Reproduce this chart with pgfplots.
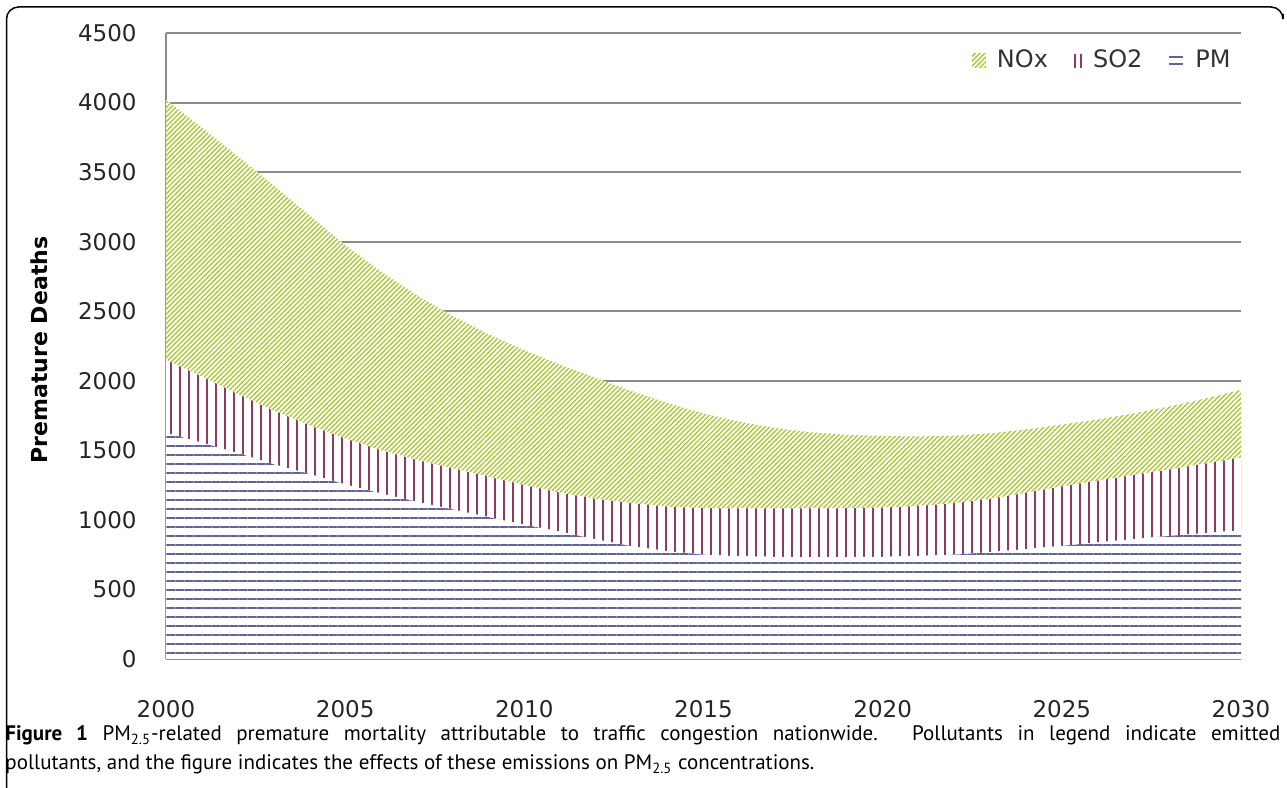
\documentclass[border=0pt]{standalone}
\usepackage{fontspec}
\setmainfont{DejaVu Sans}
\newfontfamily\capfont{PT Sans}
\usepackage{pgfplots}
\usepackage{pgfplotstable}
\pgfplotsset{compat=1.18}
\usetikzlibrary{patterns.meta}

\definecolor{noxc}{RGB}{170,200,55}
\definecolor{so2c}{RGB}{140,60,100}
\definecolor{pmc}{RGB}{100,100,145}
\definecolor{gridc}{RGB}{140,140,140}

\pgfplotstableread{
year pm so2 nox
2000 1625 525 1870
2001 1555 475 1790
2002 1480 425 1710
2003 1400 385 1620
2004 1330 350 1510
2005 1255 330 1390
2006 1190 310 1285
2007 1130 300 1185
2008 1075 295 1095
2009 1020 290 1025
2010 965 285 970
2011 915 280 920
2012 860 290 870
2013 810 310 805
2014 775 320 745
2015 750 335 680
2016 738 344 623
2017 734 348 578
2018 732 350 548
2019 733 351 528
2020 735 353 515
2021 740 360 500
2022 750 370 485
2023 768 382 472
2024 790 405 455
2025 813 427 445
2026 838 444 440
2027 862 460 443
2028 885 477 453
2029 905 500 467
2030 925 522 488
}\data

\begin{document}
\begin{tikzpicture}
\useasboundingbox (0,0) rectangle (643.5pt,394pt);
\draw[black, line width=0.75pt, rounded corners=6pt] (3.25pt,-2pt) -- (3.25pt,390.5pt) -- (641.5pt,390.5pt) -- (641.5pt,387pt);
\begin{axis}[
  at={(83pt,64.5pt)}, anchor=south west,
  scale only axis, width=537.5pt, height=313pt,
  xmin=2000, xmax=2030, ymin=0, ymax=4500,
  xtick={2000,2005,...,2030},
  xticklabels={2000,2005,2010,2015,2020,2025,2030},
  ytick={0,500,...,4500},
  yticklabels={0,500,1000,1500,2000,2500,3000,3500,4000,4500},
  major tick length=0pt,
  ymajorgrids, grid style={gridc, line width=1pt},
  axis x line*=bottom, axis y line*=left,
  axis line style={gridc, line width=1pt, -},
  tick label style={font=\fontsize{11.5}{13}\selectfont, text=black!85},
  xticklabel style={anchor=north, inner sep=0pt, yshift=-20.5pt},
  yticklabel style={anchor=east, inner sep=0pt, xshift=-14.5pt},
  stack plots=y,
  reverse legend, legend columns=-1,
  legend style={at={(rel axis cs:1,1)}, anchor=east, xshift=-5pt, yshift=-13.75pt,
    draw=none, fill=none, inner sep=0pt, column sep=0pt,
    font=\fontsize{12}{14}\selectfont, text=black!80, nodes={inner sep=0pt},
    /tikz/every even column/.append style={column sep=13pt},
    /tikz/every odd column/.append style={column sep=5.5pt}},
]
\addplot[draw=none, preaction={fill=white}, pattern={Lines[angle=0,distance=4.5pt,line width=1pt]}, pattern color=pmc,
  legend image code/.code={\draw[pmc, line width=1pt] (0pt,-1.6pt)--(7pt,-1.6pt) (0pt,1.6pt)--(7pt,1.6pt);}]
  table[x=year,y=pm]{\data} \closedcycle;
\addplot[draw=none, preaction={fill=white}, pattern={Lines[angle=90,distance=4.5pt,line width=1pt]}, pattern color=so2c,
  legend image code/.code={\draw[so2c, line width=1pt] (1.5pt,-3.5pt)--(1.5pt,3.5pt) (4.5pt,-3.5pt)--(4.5pt,3.5pt);}]
  table[x=year,y=so2]{\data} \closedcycle;
\addplot[draw=none, preaction={fill=white}, pattern={Lines[angle=45,distance=1.7pt,line width=0.7pt]}, pattern color=noxc,
  legend image code/.code={\fill[pattern={Lines[angle=45,distance=1.7pt,line width=0.7pt]}, pattern color=noxc] (0pt,-3.5pt) rectangle (7pt,3.5pt);}]
  table[x=year,y=nox]{\data} \closedcycle;
\legend{PM, SO2, NOx}
\end{axis}
\node[rotate=90, font=\bfseries\fontsize{11}{13}\selectfont, text=black] at (19.5pt,219pt) {Premature Deaths};
\node[anchor=base west, inner sep=0pt] at (2.5pt,23.5pt) {\capfont\fontsize{10.5}{13}\selectfont\makebox[637.5pt][s]{\textbf{Figure 1} PM\textsubscript{2.5}-related premature mortality attributable to traffic congestion nationwide. Pollutants in legend indicate emitted}};
\node[anchor=base west, inner sep=0pt] at (2.5pt,9pt) {\capfont\fontsize{10.5}{13}\selectfont pollutants, and the figure indicates the effects of these emissions on PM\textsubscript{2.5} concentrations.};
\end{tikzpicture}
\end{document}
